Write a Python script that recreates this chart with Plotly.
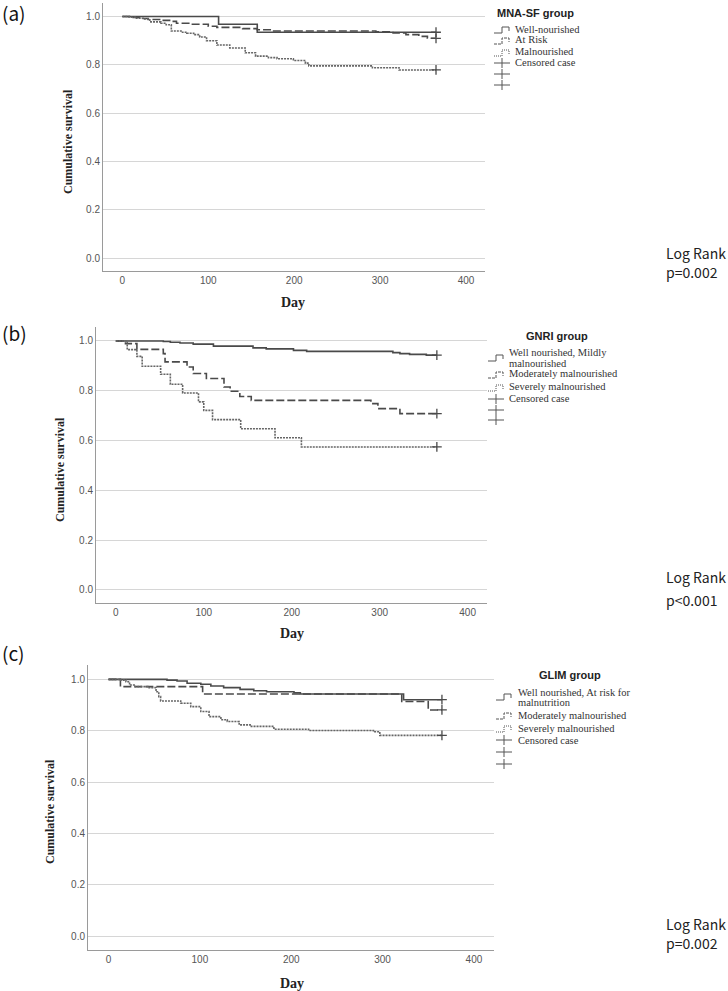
import plotly.graph_objects as go

W, H = 728, 991

# ---------------- data ----------------
# (a) MNA-SF group
a_well_t = [0, 112, 157, 365]
a_well_s = [1.0, 0.968, 0.935, 0.935]
a_risk_t = [0, 10, 20, 30, 45, 55, 63, 80, 100, 110, 140, 157, 175, 295, 315, 330, 345, 355, 365]
a_risk_s = [1.0, .996, .992, .988, .984, .98, .972, .968, .96, .955, .95, .945, .94, .937, .932, .925, .918, .91, .91]
a_mal_t = [0, 8, 15, 24, 32, 45, 51, 57, 70, 75, 83, 90, 98, 110, 125, 143, 155, 170, 180, 199, 213, 217, 291, 322, 365]
a_mal_s = [1.0, .997, .993, .99, .978, .972, .966, .94, .935, .931, .925, .915, .9, .882, .87, .85, .836, .83, .825, .818, .807, .796, .788, .779, .779]

# (b) GNRI group
b_well_t = [0, 54, 62, 73, 88, 111, 156, 171, 202, 217, 315, 323, 334, 353, 365]
b_well_s = [1.0, .998, .995, .992, .987, .979, .972, .968, .962, .958, .953, .949, .946, .943, .943]
b_mod_t = [0, 11, 24, 54, 56, 81, 88, 103, 123, 130, 141, 154, 290, 298, 323, 365]
b_mod_s = [1.0, .989, .966, .949, .916, .895, .869, .849, .815, .798, .777, .761, .748, .728, .708, .708]
b_sev_t = [0, 13, 24, 30, 51, 62, 76, 94, 100, 110, 142, 181, 211, 365]
b_sev_s = [1.0, .965, .938, .898, .866, .826, .791, .755, .721, .684, .647, .611, .574, .574]

# (c) GLIM group
c_well_t = [0, 64, 75, 86, 101, 112, 126, 144, 159, 173, 203, 210, 323, 365]
c_well_s = [1.0, .997, .994, .985, .981, .974, .968, .961, .956, .952, .948, .943, .921, .921]
c_mod_t = [0, 13, 103, 321, 350, 365]
c_mod_s = [1.0, .972, .943, .914, .881, .881]
c_sev_t = [0, 12, 19, 23, 28, 43, 52, 55, 57, 79, 90, 101, 110, 123, 130, 143, 155, 181, 219, 290, 297, 365]
c_sev_s = [1.0, .997, .991, .978, .972, .968, .952, .933, .916, .907, .894, .875, .855, .843, .836, .823, .817, .806, .801, .796, .782, .782]

x_ticks = [0, 100, 200, 300, 400]
y_ticks = [0.0, 0.2, 0.4, 0.6, 0.8, 1.0]

panel_labels = ["(a)", "(b)", "(c)"]
group_titles = ["MNA-SF group", "GNRI group", "GLIM group"]
legend_entries = [
    [["Well-nourished"], ["At Risk"], ["Malnourished"]],
    [["Well nourished, Mildly", "malnourished"], ["Moderately malnourished"], ["Severely malnourished"]],
    [["Well nourished, At risk for", "malnutrition"], ["Moderately malnourished"], ["Severely malnourished"]],
]
censor_label = "Censored case"
p_values = ["p=0.002", "p<0.001", "p=0.002"]

panels = [
    [(a_well_t, a_well_s), (a_risk_t, a_risk_s), (a_mal_t, a_mal_s)],
    [(b_well_t, b_well_s), (b_mod_t, b_mod_s), (b_sev_t, b_sev_s)],
    [(c_well_t, c_well_s), (c_mod_t, c_mod_s), (c_sev_t, c_sev_s)],
]

# ---------------- layout geometry (pixels) ----------------
def px(x):
    return x / W

def py(y):
    return 1 - y / H

boxes = [(103, 485, 3, 271), (96, 487, 327, 603), (88, 494, 665, 950)]
ytitle_pos = [(68, 142), (60, 470), (50, 812)]
xtitle_pos = [(293, 302), (292, 633), (292, 983)]
label_pos = [(0, 12), (0, 333), (0, 652)]
logrank_pos = [(664, 253, 272), (664, 577, 600), (664, 924, 943)]
leg_title_pos = [(535, 13), (557, 336), (570, 675)]
leg_text_x = [513, 507, 516]
leg_glyph_x = [494, 488, 496]
leg_lines_y = [
    [[29], [40], [52], [63]],
    [[353, 363], [374], [387], [399]],
    [[692, 702], [715], [728], [740]],
]
leg_glyph_y = [[30, 41, 53], [358, 375, 388], [697, 716, 729]]
cross_y = [[63, 74, 85], [399, 410, 420], [740, 752, 764]]

LINE = "#4a4a4a"
styles = [
    dict(color=LINE, width=1.6, dash="solid"),
    dict(color=LINE, width=1.6, dash="8px,3px"),
    dict(color="#666666", width=1.6, dash="2px,1px"),
]
glyph_dash = ["solid", "3px,1px", "1px,1px"]

fig = go.Figure()
shapes = []
annotations = []


def note(text, x, y, size, family, color="#222222", xanchor="left", angle=0):
    annotations.append(dict(text=text, x=px(x), y=py(y), xref="paper", yref="paper",
                            showarrow=False, xanchor=xanchor, yanchor="middle",
                            textangle=angle, font=dict(family=family, size=size, color=color)))


SERIF = "Liberation Serif, Times New Roman"
SANS = "Liberation Sans, Arial"
CJK = "Noto Sans CJK JP, Noto Sans"

for i, series in enumerate(panels):
    xa = "x" if i == 0 else f"x{i+1}"
    ya = "y" if i == 0 else f"y{i+1}"
    for k, (t, s) in enumerate(series):
        fig.add_trace(go.Scatter(
            x=t, y=s, mode="lines", line=dict(shape="hv", **styles[k]),
            xaxis=xa, yaxis=ya, showlegend=False, hoverinfo="skip"))
        fig.add_trace(go.Scatter(
            x=[t[-1]], y=[s[-1]], mode="markers",
            marker=dict(symbol="cross-thin", size=7, line=dict(color=LINE, width=1.3)),
            xaxis=xa, yaxis=ya, showlegend=False, hoverinfo="skip"))

    l, r, tp, bt = boxes[i]
    axkw = dict(showline=True, linecolor="#9a9a9a", linewidth=1, ticks="",
                tickfont=dict(family=SANS, size=10, color="#555555"),
                zeroline=False)
    fig.layout[f"xaxis{'' if i == 0 else i+1}"] = dict(
        domain=[px(l), px(r)], anchor=ya, range=[-22.5, 422], tickvals=x_ticks,
        showgrid=False, **axkw)
    fig.layout[f"yaxis{'' if i == 0 else i+1}"] = dict(
        domain=[py(bt), py(tp)], anchor=xa, range=[-0.053, 1.056], tickvals=y_ticks,
        tickformat=".1f", showgrid=True, gridcolor="#d6d6d6", gridwidth=1, **axkw)

    note("<b>Cumulative survival</b>", ytitle_pos[i][0], ytitle_pos[i][1], 12, SERIF,
         xanchor="center", angle=-90)
    note("<b>Day</b>", xtitle_pos[i][0], xtitle_pos[i][1], 14, SERIF, xanchor="center")
    note(panel_labels[i], label_pos[i][0], label_pos[i][1], 19, CJK, color="#111111")
    lx, ly1, ly2 = logrank_pos[i]
    note("Log Rank", lx, ly1, 14, CJK)
    note(p_values[i], lx, ly2, 14, CJK)
    note(f"<b>{group_titles[i]}</b>", leg_title_pos[i][0], leg_title_pos[i][1], 11, SANS,
         xanchor="center")
    entries = legend_entries[i] + [[censor_label]]
    for e, lines in enumerate(entries):
        for j, txt in enumerate(lines):
            note(txt, leg_text_x[i], leg_lines_y[i][e][j], 10.5, SERIF, color="#333333")

    gx = leg_glyph_x[i]
    for k in range(3):
        gy = leg_glyph_y[i][k]
        path = (f"M {px(gx)},{py(gy+3)} L {px(gx+8)},{py(gy+3)} L {px(gx+8)},{py(gy-3)} "
                f"L {px(gx+15)},{py(gy-3)} L {px(gx+15)},{py(gy+1)}")
        shapes.append(dict(type="path", path=path, xref="paper", yref="paper",
                           line=dict(color="#555555", width=1, dash=glyph_dash[k])))
    for cy in cross_y[i]:
        shapes.append(dict(type="line", x0=px(gx), x1=px(gx+16), y0=py(cy), y1=py(cy),
                           xref="paper", yref="paper", line=dict(color="#555555", width=1)))
        shapes.append(dict(type="line", x0=px(gx+8), x1=px(gx+8), y0=py(cy-5), y1=py(cy+5),
                           xref="paper", yref="paper", line=dict(color="#555555", width=1)))

fig.update_layout(width=W, height=H, margin=dict(l=0, r=0, t=0, b=0),
                  paper_bgcolor="white", plot_bgcolor="white",
                  shapes=shapes, annotations=annotations, showlegend=False)

fig.write_html("out.html", config={"displayModeBar": False},
               post_script="document.body.style.margin='0';document.body.style.overflow='hidden';")
